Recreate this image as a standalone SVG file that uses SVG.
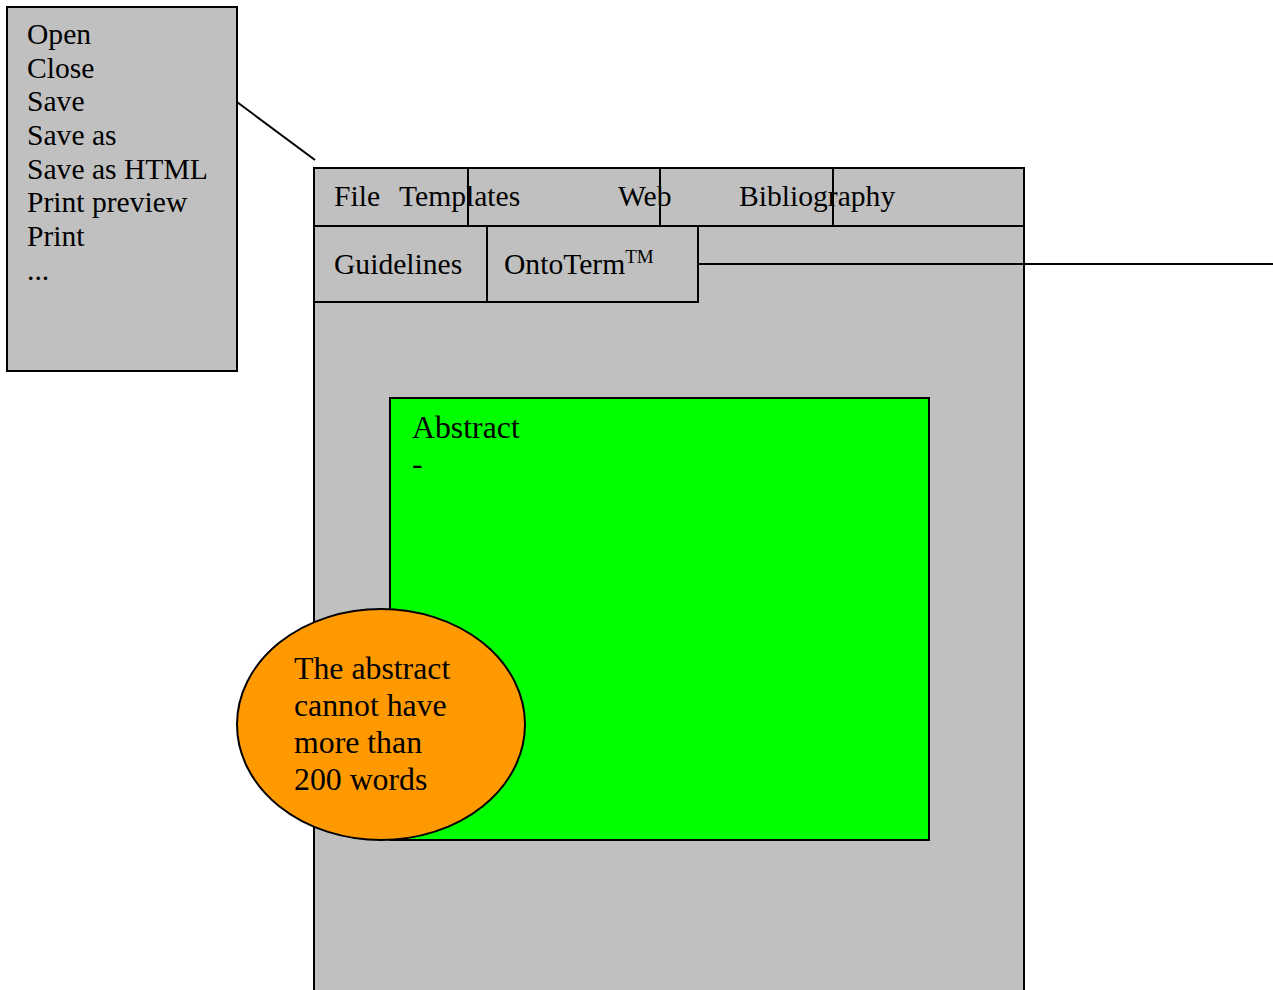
<svg xmlns="http://www.w3.org/2000/svg" width="1273" height="990" viewBox="0 0 1273 990">
<style>
text{font-family:"Liberation Serif","Times New Roman",serif;font-size:29.6px;fill:#000}
.big{font-size:31.8px}
.box{fill:#c0c0c0;stroke:#000;stroke-width:2}
.ln{stroke:#000;stroke-width:2;fill:none}
</style>
<rect width="1273" height="990" fill="#fff"/>
<g id="window">
<rect class="box" x="314" y="168" width="710" height="830"/>
</g>
<g id="menubar">
<rect class="box" x="314" y="168" width="710" height="58"/>
<line class="ln" x1="468" y1="168" x2="468" y2="226"/>
<line class="ln" x1="660" y1="168" x2="660" y2="226"/>
<line class="ln" x1="833" y1="168" x2="833" y2="226"/>
<text x="334" y="206">File</text>
<text x="399" y="206">Templates</text>
<text x="618" y="206">Web</text>
<text x="739" y="206">Bibliography</text>
</g>
<g id="toolbar">
<rect class="box" x="314" y="226" width="173" height="76"/>
<rect class="box" x="487" y="226" width="211" height="76"/>
<text x="334" y="274">Guidelines</text>
<text x="504" y="274">OntoTerm<tspan font-size="19" dy="-11">TM</tspan></text>
</g>
<g id="filemenu">
<rect class="box" x="7" y="7" width="230" height="364"/>
<text x="27" y="44">Open</text>
<text x="27" y="78">Close</text>
<text x="27" y="111">Save</text>
<text x="27" y="145">Save as</text>
<text x="27" y="179">Save as HTML</text>
<text x="27" y="212">Print preview</text>
<text x="27" y="246">Print</text>
<text x="27" y="280">...</text>
</g>
<g id="abstract">
<rect x="390" y="398" width="539" height="442" fill="#00ff00" stroke="#000" stroke-width="2"/>
<text class="big" x="412" y="438">Abstract</text>
<text class="big" x="412" y="474">-</text>
</g>
<g id="note">
<ellipse cx="381" cy="724.5" rx="144" ry="115.5" fill="#ff9900" stroke="#000" stroke-width="2"/>
<text class="big" x="294" y="679">The abstract</text>
<text class="big" x="294" y="716">cannot have</text>
<text class="big" x="294" y="753">more than</text>
<text class="big" x="294" y="790">200 words</text>
</g>
<g id="connectors">
<line class="ln" x1="237" y1="102" x2="315" y2="160"/>
<line class="ln" x1="698" y1="264" x2="1273" y2="264"/>
</g>
</svg>
